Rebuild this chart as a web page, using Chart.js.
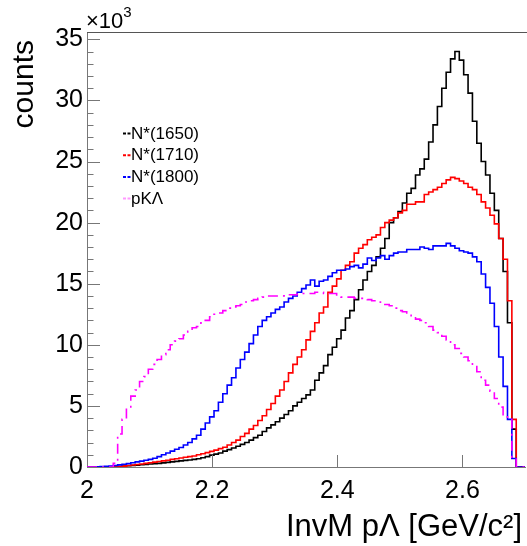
<!DOCTYPE html>
<html>
<head>
<meta charset="utf-8">
<script src="https://cdn.jsdelivr.net/npm/chart.js@4.4.1/dist/chart.umd.min.js"></script>
<style>
  html, body { margin: 0; padding: 0; background: #fff; }
</style>
</head>
<body>
<canvas id="invMassChart" width="527" height="546"></canvas>
<script>
// histogram binning: 100 bins of 7 MeV between 2.0 and 2.7 GeV/c^2
const binLow = 2.0;
const binWidth = 0.007;
const binCount = 100;

// bin contents, in units of 10^3 counts
const countsN1650 = [
  0, 0, 0, 0, 0, 0, 0, 0,
  0.03, 0.07, 0.1, 0.12, 0.15, 0.18, 0.21, 0.24,
  0.27, 0.3, 0.34, 0.38, 0.42, 0.46, 0.5, 0.54,
  0.57, 0.62, 0.68, 0.76, 0.85, 0.97, 1.05, 1.15,
  1.3, 1.42, 1.55, 1.7, 1.85, 2.0, 2.2, 2.4,
  2.6, 2.9, 3.2, 3.45, 3.7, 4.0, 4.3, 4.6,
  5.0, 5.3, 5.6, 5.9, 6.3, 7.1, 7.7, 8.3,
  9.2, 9.8, 10.5, 11.2, 12.2, 12.8, 13.7, 14.5,
  15.3, 16.0, 16.5, 17.2, 17.9, 18.7, 20.0, 20.4,
  20.9, 21.6, 22.4, 22.8, 23.9, 24.4, 25.2, 26.6,
  28.0, 29.5, 31.0, 32.3, 33.4, 34.0, 33.3, 32.1,
  30.6, 28.3, 26.5, 25.0, 23.9, 22.4, 21.0, 18.7,
  16.0, 11.8, 3.1, 0
];
const countsN1710 = [
  0, 0, 0, 0, 0, 0, 0, 0,
  0.03, 0.07, 0.12, 0.16, 0.2, 0.25, 0.3, 0.35,
  0.4, 0.45, 0.5, 0.55, 0.62, 0.68, 0.74, 0.8,
  0.85, 0.9, 1.0, 1.08, 1.18, 1.28, 1.38, 1.5,
  1.62, 1.8, 2.0, 2.2, 2.5, 2.75, 3.1, 3.4,
  3.8, 4.2, 4.7, 5.2, 5.8, 6.3, 7.0, 7.7,
  8.4, 9.0, 9.6, 10.4, 11.1, 11.8, 12.6, 13.1,
  14.3, 14.8, 15.4, 16.1, 16.5, 16.8, 17.5, 17.9,
  18.2, 18.6, 18.8, 19.0, 19.6, 20.0, 20.2, 20.4,
  20.8, 21.0, 21.5, 21.5, 21.7, 21.7, 22.3, 22.5,
  22.7, 22.9, 23.2, 23.5, 23.7, 23.6, 23.4, 23.2,
  22.9, 22.7, 22.3, 21.7, 21.2, 20.6, 19.9, 18.7,
  17.0, 13.6, 3.9, 0
];
const countsN1800 = [
  0, 0, 0, 0.02, 0.04, 0.06, 0.08, 0.12,
  0.17, 0.22, 0.28, 0.35, 0.42, 0.48, 0.55, 0.62,
  0.72, 0.85, 1.0, 1.15, 1.3, 1.45, 1.6, 1.8,
  2.0, 2.3, 2.6, 3.1, 3.6, 4.1, 4.6, 5.3,
  6.0, 6.7, 7.3, 8.1, 8.8, 9.4, 10.1, 10.8,
  11.5, 12.0, 12.3, 12.6, 12.9, 13.1, 13.5, 13.8,
  14.0, 14.3, 14.6, 14.9, 15.3, 14.8, 15.2, 15.3,
  15.6, 15.9, 16.1, 16.1, 16.2, 16.4, 16.5, 16.3,
  16.6, 17.1, 16.9, 17.1, 17.3, 17.0, 17.3, 17.5,
  17.6, 17.6, 17.8, 17.8, 17.8, 18.0, 17.9, 17.8,
  18.1, 18.1, 18.1, 18.3, 18.1, 17.9, 17.7, 17.6,
  17.5, 17.2, 16.8, 15.8, 14.7, 13.4, 11.5, 9.0,
  6.6, 3.9, 0.7, 0
];
const countsPKLambda = [
  0, 0, 0, 0, 0, 0, 0, 0.3,
  2.7, 3.9, 4.8, 5.8, 6.3, 7.0, 7.4, 8.0,
  8.4, 8.8, 9.2, 9.6, 10.0, 10.3, 10.5, 10.8,
  11.1, 11.4, 11.5, 11.8, 12.0, 12.3, 12.5, 12.6,
  12.8, 13.0, 13.1, 13.2, 13.3, 13.5, 13.6, 13.7,
  13.8, 13.9, 14.0, 14.0, 14.0, 14.0, 14.1, 14.1,
  14.1, 14.2, 14.2, 14.2, 14.2, 14.3, 14.3, 14.2,
  14.2, 14.2, 14.0, 13.9, 13.9, 13.9, 13.8, 13.8,
  13.8, 13.7, 13.6, 13.5, 13.4, 13.3, 13.2, 13.0,
  12.8, 12.7, 12.5, 12.3, 12.1, 12.0, 11.8, 11.5,
  11.2, 11.0, 10.7, 10.4, 10.0, 9.7, 9.3, 9.0,
  8.7, 8.3, 7.8, 7.1, 6.7, 6.2, 5.6, 4.9,
  4.1, 3.9, 0.8, 0
];

const seriesLabels = ['N*(1650)', 'N*(1710)', 'N*(1800)', 'pK\u039B'];
const xTickValues = [2, 2.2, 2.4, 2.6];
const yTickValues = [0, 5, 10, 15, 20, 25, 30, 35];

const FONT = "'Liberation Sans', Arial, Helvetica, sans-serif";

// histogram outline: one point per bin edge, stepped so each bin holds its value
function toSteps(values) {
    const pts = values.map((v, i) => ({ x: binLow + i * binWidth, y: v }));
    pts.push({ x: binLow + binCount * binWidth, y: values[values.length - 1] });
    return pts;
}

function histo(label, values, color, order, dash) {
    return {
        label: label,
        data: toSteps(values),
        borderColor: color,
        backgroundColor: color,
        borderWidth: 1.6,
        borderDash: dash || [],
        stepped: 'after',
        pointRadius: 0,
        fill: false,
        order: order
    };
}

// ROOT-like decorations: inward ticks, top frame, exponent, titles, legend
const rootDecor = {
    id: 'rootDecor',
    afterDraw(chart) {
        const { ctx, chartArea: a } = chart;
        const x = chart.scales.x, y = chart.scales.y;
        ctx.save();

        ctx.strokeStyle = '#555';
        ctx.lineWidth = 1;
        ctx.beginPath();
        ctx.moveTo(a.left, a.top + 0.5);
        ctx.lineTo(chart.width, a.top + 0.5);
        ctx.stroke();

        ctx.strokeStyle = '#777';
        ctx.beginPath();
        for (let v = 0; v <= y.max; v += 1) {
            const py = Math.round(y.getPixelForValue(v)) + 0.5;
            const len = yTickValues.includes(v) ? 13 : 6.5;
            ctx.moveTo(a.left, py);
            ctx.lineTo(a.left + len, py);
        }
        xTickValues.slice(1).forEach(v => {
            const px = Math.round(x.getPixelForValue(v)) + 0.5;
            ctx.moveTo(px, a.bottom);
            ctx.lineTo(px, a.bottom - 12);
        });
        ctx.stroke();

        ctx.fillStyle = '#000';
        ctx.textBaseline = 'alphabetic';
        ctx.textAlign = 'left';
        ctx.font = '22px ' + FONT;
        ctx.fillText('\u00D710', a.left - 1, 28);
        const w = ctx.measureText('\u00D710').width;
        ctx.font = '15px ' + FONT;
        ctx.fillText('3', a.left - 1 + w, 17);

        ctx.font = '31px ' + FONT;
        ctx.textAlign = 'right';
        ctx.fillText('InvM p\u039B [GeV/c\u00B2]', 522, 536);

        ctx.font = '30px ' + FONT;
        ctx.save();
        ctx.translate(33, 40);
        ctx.rotate(-Math.PI / 2);
        ctx.fillText('counts', 0, 0);
        ctx.restore();

        ctx.font = '17px ' + FONT;
        ctx.textAlign = 'left';
        ctx.textBaseline = 'middle';
        chart.data.datasets.forEach((ds, i) => {
            const ly = 133 + i * 21.7;
            ctx.strokeStyle = ds.borderColor;
            ctx.globalAlpha = ds.borderDash.length ? 0.4 : 1;
            ctx.lineWidth = 2;
            ctx.setLineDash([3, 1.5]);
            ctx.beginPath();
            ctx.moveTo(123, ly + 0.5);
            ctx.lineTo(131, ly + 0.5);
            ctx.stroke();
            ctx.setLineDash([]);
            ctx.globalAlpha = 1;
            ctx.fillText(ds.label, 131, ly + 1);
        });
        ctx.restore();
    }
};

new Chart(document.getElementById('invMassChart').getContext('2d'), {
    type: 'line',
    data: {
        datasets: [
            histo(seriesLabels[0], countsN1650, '#000000', 4),
            histo(seriesLabels[1], countsN1710, '#ff0000', 3),
            histo(seriesLabels[2], countsN1800, '#0000ff', 2),
            histo(seriesLabels[3], countsPKLambda, '#ff00ff', 1, [10, 5, 2, 5])
        ]
    },
    options: {
        responsive: false,
        animation: false,
        layout: { padding: { top: 32, right: 2, left: 0, bottom: 0 } },
        plugins: { legend: { display: false }, tooltip: { enabled: false } },
        scales: {
            x: {
                type: 'linear',
                min: 2,
                max: 2.7,
                afterBuildTicks: s => { s.ticks = xTickValues.map(v => ({ value: v })); },
                afterFit: s => { s.height = 79; },
                grid: { display: false, drawTicks: false },
                border: { display: true, color: '#777', width: 1 },
                ticks: {
                    autoSkip: false,
                    maxRotation: 0,
                    padding: 9,
                    color: '#000',
                    font: { size: 25, family: FONT },
                    callback: v => (v === 2 ? '2' : v.toFixed(1))
                }
            },
            y: {
                type: 'linear',
                min: 0,
                max: 35.6,
                afterBuildTicks: s => { s.ticks = yTickValues.map(v => ({ value: v })); },
                afterFit: s => { s.width = 87; },
                grid: { display: false, drawTicks: false },
                border: { display: true, color: '#777', width: 1 },
                ticks: {
                    padding: 4,
                    color: '#000',
                    font: { size: 25, family: FONT },
                    callback: v => String(v)
                }
            }
        }
    },
    plugins: [rootDecor]
});
</script>
</body>
</html>
